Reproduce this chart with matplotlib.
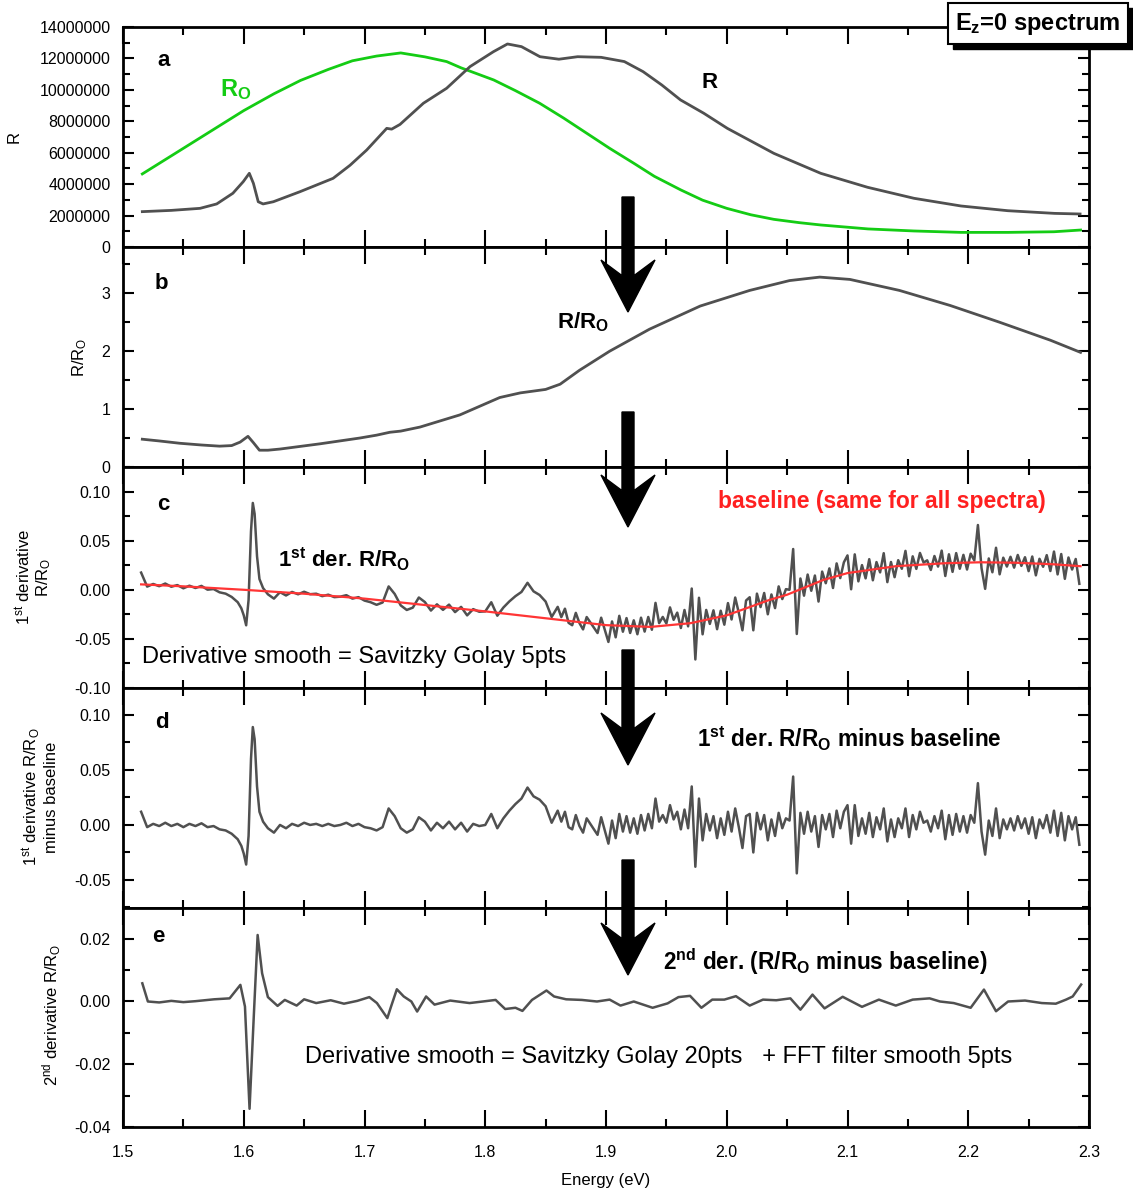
import numpy as np
import matplotlib.pyplot as plt
from matplotlib.ticker import MultipleLocator, FormatStrFormatter
from matplotlib.patches import Rectangle, FancyArrow

plt.rcParams['font.family'] = ['Liberation Sans Narrow', 'Liberation Sans', 'DejaVu Sans']
plt.rcParams['mathtext.fontset'] = 'custom'
plt.rcParams['mathtext.rm'] = 'Liberation Sans'
plt.rcParams['mathtext.bf'] = 'Liberation Sans:bold'
plt.rcParams['mathtext.it'] = 'Liberation Sans:italic'

# ---- panel a : raw spectra (counts) ----
E_R = [1.516, 1.54, 1.5638, 1.5776, 1.591, 1.5996, 1.6046, 1.608, 1.612, 1.616,
       1.6245, 1.6466, 1.674, 1.688, 1.7018, 1.7184, 1.7225, 1.7294, 1.7488, 1.768, 1.7874,
       1.8068, 1.8184, 1.83, 1.8453, 1.861, 1.8765, 1.8959, 1.9152, 1.9307, 1.9462,
       1.9617, 1.981, 2.0005, 2.039, 2.0778, 2.1166, 2.155, 2.194, 2.2327, 2.2714, 2.2926]
R = [2.25, 2.33, 2.46, 2.74, 3.42, 4.16, 4.69, 4.05, 2.88, 2.74,
     2.88, 3.52, 4.37, 5.2, 6.17, 7.55, 7.5, 7.8, 9.15, 10.1, 11.48,
     12.43, 12.92, 12.75, 12.11, 11.95, 12.11, 12.07, 11.8, 11.16, 10.31,
     9.36, 8.51, 7.55, 5.96, 4.69, 3.8, 3.1, 2.61, 2.31, 2.14, 2.1]

E_R0 = [1.516, 1.54, 1.56, 1.58, 1.60, 1.625, 1.647, 1.67, 1.69, 1.71,
        1.73, 1.75, 1.768, 1.78, 1.807, 1.825, 1.845, 1.865, 1.884, 1.903,
        1.923, 1.94, 1.962, 1.98, 2.0, 2.02, 2.039, 2.06, 2.078, 2.10,
        2.117, 2.155, 2.194, 2.233, 2.271, 2.293]
R0 = [4.65, 5.8, 6.76, 7.72, 8.68, 9.75, 10.6, 11.3, 11.85, 12.15,
      12.35, 12.1, 11.8, 11.4, 10.63, 9.95, 9.15, 8.2, 7.24, 6.28,
      5.33, 4.5, 3.63, 2.98, 2.46, 2.05, 1.76, 1.55, 1.40, 1.26,
      1.15, 1.02, 0.93, 0.93, 0.97, 1.08]

# ---- panel b : R/R0 ----
E_b = [1.516, 1.53, 1.547, 1.565, 1.58, 1.59, 1.597, 1.6035, 1.608, 1.613,
       1.62, 1.63, 1.663, 1.696, 1.71, 1.721, 1.73, 1.746, 1.779, 1.812,
       1.829, 1.85, 1.862, 1.878, 1.903, 1.936, 1.978, 2.019, 2.052, 2.077,
       2.102, 2.143, 2.185, 2.226, 2.268, 2.293]
ratio = [0.48, 0.45, 0.41, 0.38, 0.36, 0.37, 0.43, 0.53, 0.42, 0.29,
         0.29, 0.31, 0.40, 0.50, 0.55, 0.60, 0.62, 0.69, 0.90, 1.20,
         1.28, 1.34, 1.43, 1.67, 2.00, 2.38, 2.78, 3.05, 3.22, 3.28,
         3.24, 3.05, 2.79, 2.50, 2.19, 1.98]

# ---- baseline (red, panel c) ----
E_base = [1.515, 1.55, 1.60, 1.65, 1.70, 1.75, 1.80, 1.85, 1.90, 1.937,
          1.97, 2.00, 2.035, 2.05, 2.08, 2.10, 2.14, 2.18, 2.21, 2.24, 2.27, 2.293]
base = [0.0055, 0.0035, 0.0, -0.004, -0.009, -0.0155, -0.022, -0.029, -0.036, -0.0378,
        -0.034, -0.026, -0.0105, -0.005, 0.010, 0.017, 0.024, 0.027, 0.028, 0.0275, 0.026, 0.024]

# ---- panel d : 1st derivative minus baseline ----
d_low = [0.012, -0.002, 0.001, -0.001, 0.002, -0.001, 0.001, -0.002, 0.001, -0.001,
         0.0015, -0.002, -0.001, -0.004, -0.005, -0.008, -0.013]          # 1.515 .. 1.595, step 0.005
E_spike = [1.598, 1.600, 1.602, 1.604, 1.606, 1.6075, 1.609, 1.611, 1.613, 1.616, 1.620]
d_spike = [-0.019, -0.026, -0.036, -0.010, 0.060, 0.089, 0.078, 0.035, 0.012, 0.003, -0.003]
d_mid = [-0.007, 0.000, -0.003, 0.001, -0.001, 0.002, 0.000, 0.001, -0.001, 0.001,
         -0.001, 0.000, 0.002, -0.001, 0.001, -0.002, -0.003, -0.005, -0.002, 0.015,
         0.008, -0.003, -0.007, -0.004, 0.007, 0.003, -0.005, 0.002, -0.003, 0.003,
         -0.004, 0.002, -0.006, 0.001, -0.001, 0.000, 0.010, -0.003, 0.006, 0.013,
         0.019, 0.024, 0.034, 0.026, 0.023, 0.017, 0.002, 0.013]           # 1.625 .. 1.860, step 0.005
d_high = [0.003, 0.012, -0.002, -0.004, 0.009, -0.001, -0.007, 0.006, 0.001, -0.004, -0.009, 0.007,
          -0.005, -0.017, 0.004, -0.012, 0.010, -0.006, 0.008, -0.007, 0.006, -0.008, 0.009, -0.005,
          0.010, -0.003, 0.024, 0.003, 0.009, 0.002, 0.018, 0.005, 0.012, -0.004, 0.014, -0.003,
          0.035, -0.038, 0.024, -0.014, 0.010, -0.005, 0.008, -0.012, 0.006, -0.009, 0.012, -0.006,
          0.015, -0.002, -0.021, 0.008, 0.010, -0.025, 0.011, -0.004, 0.009, -0.014, 0.005, -0.010,
          0.011, -0.003, 0.006, 0.004, 0.044, -0.044, 0.011, -0.008, 0.012, -0.006, 0.008, -0.020,
          0.009, -0.004, 0.010, -0.011, 0.013, -0.003, 0.012, 0.018, -0.017, 0.018, -0.010, 0.006,
          -0.008, 0.011, -0.011, 0.007, -0.004, 0.015, -0.015, 0.005, -0.011, 0.006, -0.003, 0.015,
          -0.011, 0.009, -0.004, 0.012, 0.002, 0.004, -0.006, 0.008, -0.003, 0.013, -0.013, 0.009,
          -0.009, 0.010, -0.006, 0.008, -0.007, 0.009, 0.002, 0.038, -0.006, -0.027, 0.004, -0.010,
          0.015, -0.012, 0.005, -0.004, 0.006, -0.005, 0.008, -0.003, 0.006, -0.008, 0.007, -0.012,
          0.005, -0.003, 0.009, -0.007, 0.013, -0.010, 0.011, -0.014, 0.008, -0.004, 0.007, -0.018]  # 1.863 .. 2.292, step 0.003

# ---- panel e : 2nd derivative ----
E_e = [1.516, 1.5206, 1.53, 1.54, 1.55, 1.56, 1.5755, 1.5883, 1.5972, 1.601,
       1.6048, 1.6083, 1.6115, 1.6152, 1.62, 1.628, 1.634, 1.6438, 1.65, 1.66,
       1.672, 1.683, 1.694, 1.704, 1.7103, 1.7189, 1.722, 1.7268, 1.7325, 1.7388,
       1.7436, 1.751, 1.758, 1.771, 1.787, 1.798, 1.8086, 1.8165, 1.825, 1.8308,
       1.8387, 1.8507, 1.857, 1.867, 1.88, 1.8925, 1.903, 1.912, 1.923, 1.9386,
       1.951, 1.96, 1.9696, 1.979, 1.988, 1.998, 2.0076, 2.019, 2.030, 2.041,
       2.0527, 2.061, 2.071, 2.081, 2.096, 2.112, 2.126, 2.14, 2.154, 2.168,
       2.1766, 2.188, 2.202, 2.213, 2.223, 2.233, 2.247, 2.261, 2.2725, 2.281,
       2.2865, 2.2935]
der2 = [0.0058, 0.0, -0.0003, 0.0002, -0.0002, 0.0001, 0.0007, 0.001, 0.0053, -0.0016,
        -0.0342, -0.0048, 0.0212, 0.009, 0.0014, -0.0014, 0.0005, -0.0013, 0.0007, -0.0005,
        0.0004, -0.0007, 0.0002, 0.0014, -0.0005, -0.0053, -0.0016, 0.0039, 0.0016, 0.0,
        -0.0032, 0.0016, -0.001, 0.0003, -0.0005, 0.0, 0.0005, -0.0024, -0.002, -0.003,
        0.0005, 0.0035, 0.0016, 0.0007, 0.0005, 0.0, 0.0006, -0.0013, 0.0, -0.002,
        -0.0006, 0.0014, 0.0018, -0.002, 0.0006, 0.0006, 0.0017, -0.0013, 0.0006, 0.0004,
        0.001, -0.0026, 0.0022, -0.0022, 0.0015, -0.0017, 0.0006, -0.0013, 0.0006, 0.001,
        0.0, -0.0005, -0.002, 0.0038, -0.0031, 0.0, 0.0003, -0.0005, -0.0007, 0.0006,
        0.0016, 0.0054]

x_ticks = [1.5, 1.6, 1.7, 1.8, 1.9, 2.0, 2.1, 2.2, 2.3]

# energies of the derivative samples
E_d = np.concatenate([
    np.round(1.515 + 0.005 * np.arange(len(d_low)), 4),
    E_spike,
    np.round(1.625 + 0.005 * np.arange(len(d_mid)), 4),
    np.round(1.863 + 0.003 * np.arange(len(d_high)), 4),
])
d_val = np.concatenate([d_low, d_spike, d_mid, d_high])
# panel c is the same derivative before the baseline was taken off
c_val = d_val + np.interp(E_d, E_base, base)

W, H = 1133, 1194
fig = plt.figure(figsize=(W / 100, H / 100), dpi=100)

GRAY = '#505050'


def panel(top, bottom):
    ax = fig.add_axes([123 / W, 1 - bottom / H, (1089 - 123) / W, (bottom - top) / H])
    ax.set_xlim(1.5, 2.3)
    ax.set_xticks(x_ticks)
    ax.xaxis.set_minor_locator(MultipleLocator(0.05))
    ax.xaxis.set_major_formatter(FormatStrFormatter('%.1f'))
    ax.tick_params(which='both', direction='in', top=True, right=True, width=1.5,
                   labelsize=11.5, labelbottom=False)
    ax.tick_params(axis='x', which='major', length=12, pad=13)
    ax.tick_params(axis='x', which='minor', length=6)
    ax.tick_params(axis='y', which='major', length=8, pad=9)
    ax.tick_params(axis='y', which='minor', length=5)
    for s in ax.spines.values():
        s.set_linewidth(2)
    return ax


# a
ax_a = panel(27, 247)
ax_a.plot(E_R0, np.array(R0) * 1e6, color='#14cc14', lw=2)
ax_a.plot(E_R, np.array(R) * 1e6, color=GRAY, lw=2)
ax_a.set_ylim(0, 14e6)
ax_a.set_yticks(np.arange(0, 14e6 + 1, 2e6))
ax_a.yaxis.set_minor_locator(MultipleLocator(1e6))
ax_a.yaxis.set_major_formatter(FormatStrFormatter('%d'))
ax_a.text(1.534, 11.9e6, 'a', fontsize=16, fontweight='bold', ha='center', va='center')
ax_a.text(1.580, 10.0e6, r'R$_\mathbf{O}$', fontsize=17, fontweight='bold', color='#14cc14',
          va='center', family='Liberation Sans')
ax_a.text(1.986, 10.44e6, 'R', fontsize=16, fontweight='bold', ha='center', va='center',
          family='Liberation Sans')

# b
ax_b = panel(247, 467)
ax_b.plot(E_b, ratio, color=GRAY, lw=2)
ax_b.set_ylim(0, 3.8)
ax_b.set_yticks([0, 1, 2, 3])
ax_b.yaxis.set_minor_locator(MultipleLocator(0.5))
ax_b.yaxis.set_major_formatter(FormatStrFormatter('%d'))
ax_b.text(1.532, 3.17, 'b', fontsize=16, fontweight='bold', ha='center', va='center')
ax_b.text(1.8594, 2.5, r'R/R$_\mathbf{O}$', fontsize=16, fontweight='bold', va='center',
          family='Liberation Sans')

# c
ax_c = panel(467, 688)
ax_c.plot(E_d, c_val, color=GRAY, lw=1.8)
ax_c.plot(E_base, base, color='#ff3535', lw=1.6)
ax_c.set_ylim(-0.10, 0.125)
ax_c.set_yticks([-0.10, -0.05, 0.0, 0.05, 0.10])
ax_c.yaxis.set_minor_locator(MultipleLocator(0.025))
ax_c.yaxis.set_major_formatter(FormatStrFormatter('%.2f'))
ax_c.text(1.533, 0.0867, 'c', fontsize=16, fontweight='bold', ha='center', va='center')
ax_c.text(1.6284, 0.0306, r'1$^\mathbf{st}$ der. R/R$_\mathbf{O}$', fontsize=16, fontweight='bold',
          va='center', family='Liberation Sans')
ax_c.text(1.9928, 0.0898, 'baseline (same for all spectra)', fontsize=16.5, fontweight='bold',
          color='#ff2020', va='center', family='Liberation Sans')
ax_c.text(1.5157, -0.0684, 'Derivative smooth = Savitzky Golay 5pts', fontsize=17, va='center')

# d
ax_d = panel(688, 908)
ax_d.plot(E_d, d_val, color=GRAY, lw=1.8)
ax_d.set_ylim(-0.0755, 0.1245)
ax_d.set_yticks([-0.05, 0.0, 0.05, 0.10])
ax_d.yaxis.set_minor_locator(MultipleLocator(0.025))
ax_d.yaxis.set_major_formatter(FormatStrFormatter('%.2f'))
ax_d.text(1.532, 0.0927, 'd', fontsize=16, fontweight='bold', ha='center', va='center')
ax_d.text(1.9754, 0.0782, r'1$^\mathbf{st}$ der. R/R$_\mathbf{O}$ minus baseline', fontsize=16.3,
          fontweight='bold', va='center', family='Liberation Sans')

# e
ax_e = panel(908, 1127)
ax_e.plot(E_e, der2, color=GRAY, lw=1.8)
ax_e.set_ylim(-0.04, 0.0298)
ax_e.set_yticks([-0.04, -0.02, 0.0, 0.02])
ax_e.yaxis.set_minor_locator(MultipleLocator(0.01))
ax_e.yaxis.set_major_formatter(FormatStrFormatter('%.2f'))
ax_e.tick_params(labelbottom=True)
ax_e.text(1.529, 0.0206, 'e', fontsize=16, fontweight='bold', ha='center', va='center')
ax_e.text(1.9472, 0.0127, r'2$^\mathbf{nd}$ der. (R/R$_\mathbf{O}$ minus baseline)', fontsize=16.3,
          fontweight='bold', va='center', family='Liberation Sans')
ax_e.text(1.6507, -0.0178, 'Derivative smooth = Savitzky Golay 20pts   + FFT filter smooth 5pts',
          fontsize=17, va='center')

# axis titles, placed by pixel position
def ftext(x, y, s, **kw):
    fig.text(x / W, 1 - y / H, s, ha='center', va='center', **kw)

ftext(14, 137, 'R', fontsize=12, rotation=90)
ftext(80, 357, r'R/R$_\mathrm{O}$', fontsize=12, rotation=90)
ftext(33, 577, '1$^\\mathrm{st}$ derivative\nR/R$_\\mathrm{O}$', fontsize=12, rotation=90,
      linespacing=1.1)
ftext(40, 797, '1$^\\mathrm{st}$ derivative R/R$_\\mathrm{O}$\nminus baseline', fontsize=12,
      rotation=90, linespacing=1.1)
ftext(52, 1015, '2$^\\mathrm{nd}$ derivative R/R$_\\mathrm{O}$', fontsize=12, rotation=90)
ftext(606, 1180, 'Energy (eV)', fontsize=12)

# big down arrows between the steps (figure inches)
for top, tip in [(197, 312), (412, 527), (650, 765), (860, 975)]:
    fig.add_artist(FancyArrow(6.28, (H - top) / 100, 0, -(tip - top) / 100, width=0.12,
                              head_width=0.54, head_length=0.52, overhang=0.3,
                              length_includes_head=True, color='black',
                              transform=fig.dpi_scale_trans, zorder=10))

# "Ez=0 spectrum" box with drop shadow
fig.add_artist(Rectangle((953 / 100, (H - 49) / 100), 1.80, 0.41, facecolor='black',
                         edgecolor='black', transform=fig.dpi_scale_trans, zorder=10))
fig.add_artist(Rectangle((948 / 100, (H - 44) / 100), 1.80, 0.41, facecolor='white',
                         edgecolor='black', lw=1.5, transform=fig.dpi_scale_trans, zorder=11))
fig.text(1038 / W, 1 - 24 / H, r'E$_\mathbf{z}$=0 spectrum', fontsize=17, fontweight='bold',
         ha='center', va='center', family='Liberation Sans', zorder=12)

fig.savefig('out.png', dpi=100)
